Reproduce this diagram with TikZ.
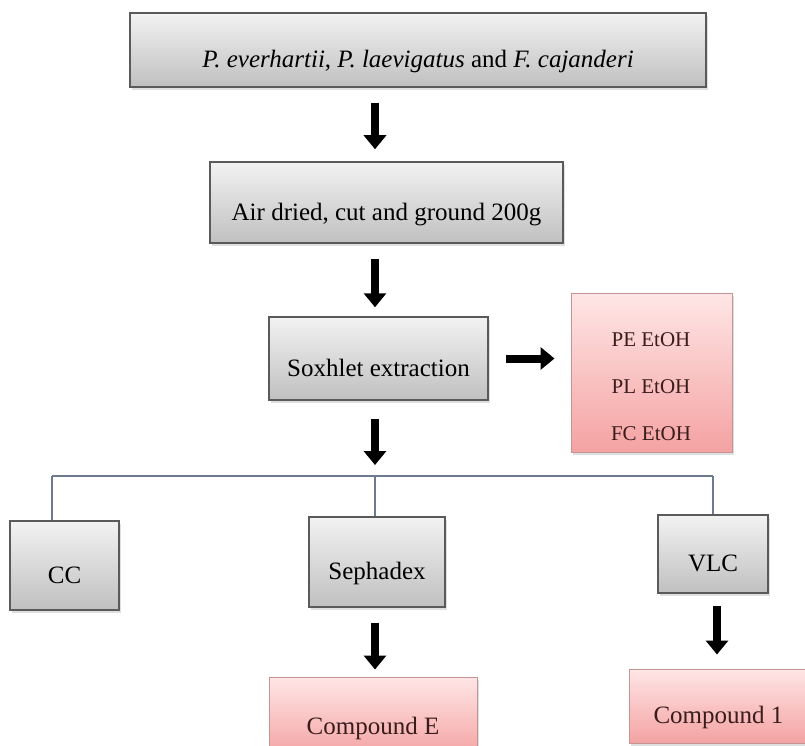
\documentclass[tikz,border=0pt]{standalone}
\usepackage{fontspec}
\setmainfont{Liberation Serif}
\usetikzlibrary{arrows.meta,shadows}
\definecolor{boxtop}{HTML}{F2F2F2}
\definecolor{boxbot}{HTML}{C0C0C0}
\definecolor{boxline}{HTML}{5A5A5A}
\definecolor{pinktop}{HTML}{FFE6E6}
\definecolor{pinkbot}{HTML}{F4A2A2}
\definecolor{pinkline}{HTML}{C49494}
\definecolor{pinktext}{HTML}{3A1C1C}
\definecolor{branchline}{HTML}{6B7A8C}

\begin{document}
\begin{tikzpicture}[x=1pt, y=1pt, font=\fontsize{25}{30}\selectfont,
  greybox/.style={draw=boxline, line width=1.5pt, top color=boxtop, bottom color=boxbot,
    inner sep=0pt, text height=41pt, text depth=6pt,
    drop shadow={shadow xshift=2pt, shadow yshift=-3pt, opacity=.25}},
  pinkbox/.style={greybox, draw=pinkline, line width=1pt, top color=pinktop,
    bottom color=pinkbot, text=pinktext},
  bigarrow/.style={line width=8pt, -{Triangle[width=22pt,length=14pt]}},
  branch/.style={draw=branchline, line width=1.2pt}]
\clip (0,0) rectangle (805,-746);
% column of the main arrows
\coordinate (axis) at (375,0);
\node[greybox, minimum width=576, minimum height=74] (src) at (418,-50)
  {\textit{P. everhartii}, \textit{P. laevigatus} and \textit{F. cajanderi}};
\node[greybox, minimum width=353, minimum height=81] (dry) at (386.5,-202.5)
  {Air dried, cut and ground 200g};
\node[greybox, minimum width=219, minimum height=83] (soxh) at (378.5,-358.5)
  {Soxhlet extraction};
\node[pinkbox, minimum width=161, minimum height=159] (ext) at (651.5,-372.5) {};
\node[align=center, text=pinktext, font=\fontsize{21}{47}\selectfont] (extlbl) at (651,-387)
  {PE EtOH\\PL EtOH\\FC EtOH};
\draw[bigarrow, shorten <=15pt, shorten >=12pt] (src.south -| axis) -- (dry.north -| axis);
\draw[bigarrow, shorten <=15pt, shorten >=9pt] (dry.south -| axis) -- (soxh.north -| axis);
\draw[bigarrow, shorten <=17pt, shorten >=16pt] (soxh.east) -- (ext.west |- soxh.east);
% split into the three columns
\coordinate (split) at (375,-476);
\coordinate (bl) at (52,-476);
\coordinate (br) at (713,-476);
\draw[bigarrow, shorten <=18pt, shorten >=11pt] (soxh.south -| axis) -- (split);
\node[greybox, minimum width=109, minimum height=89] (cc) at (64.5,-565.5) {CC};
\node[greybox, minimum width=136, minimum height=90] (seph) at (377,-562) {Sephadex};
\node[greybox, minimum width=110, minimum height=78] (vlc) at (713,-554) {VLC};
\draw[branch] (bl) -- (br);
\draw[branch] (bl) -- (bl |- cc.north);
\draw[branch] (split) -- (split |- seph.north);
\draw[branch] (br) -- (br |- vlc.north);
\node[pinkbox, minimum width=208, minimum height=80] (cpdE) at (373,-717) {Compound E};
\node[pinkbox, minimum width=179, minimum height=74] (cpd1) at (718.5,-706) {Compound 1};
\draw[bigarrow, shorten <=15pt, shorten >=7pt] (seph.south -| axis) -- (cpdE.north -| axis);
\draw[bigarrow, shorten <=12pt, shorten >=14pt] ([xshift=4pt]vlc.south) -- ([xshift=4pt]vlc.south |- cpd1.north);
\end{tikzpicture}
\end{document}
